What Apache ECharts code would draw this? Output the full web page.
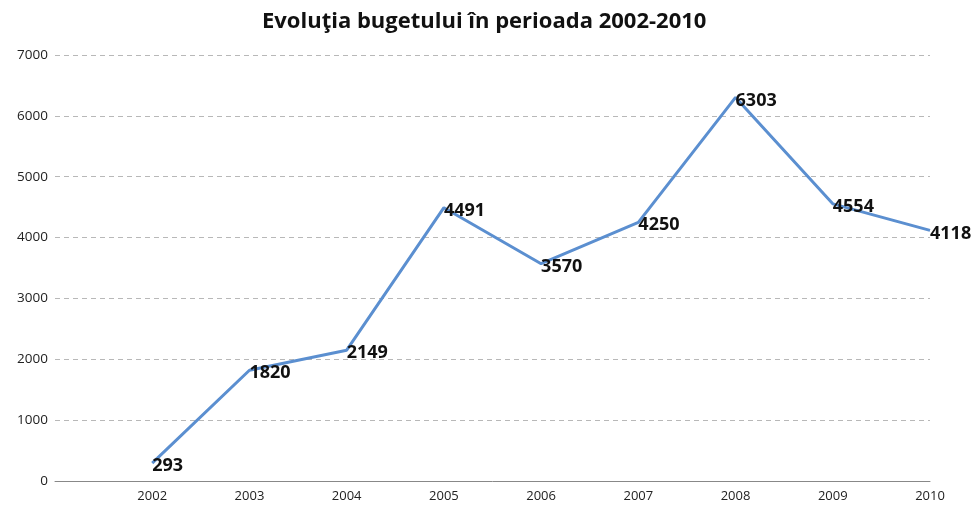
<!DOCTYPE html>
<html>
<head>
<meta charset="utf-8">
<script src="https://cdn.jsdelivr.net/npm/echarts@6/dist/echarts.min.js"></script>
<style>
  html, body { margin: 0; padding: 0; background: #fff; }
  #chart { width: 976px; height: 507px; }
</style>
</head>
<body>
<div id="chart"></div>
<script>
var years = [2002, 2003, 2004, 2005, 2006, 2007, 2008, 2009, 2010],
    buget = [293, 1820, 2149, 4491, 3570, 4250, 6303, 4554, 4118];

var points = years.map(function (y, i) { return [y, buget[i]]; });

var chart = echarts.init(document.getElementById('chart'));
chart.setOption({
    animation: false,
    textStyle: {fontFamily: 'Open Sans'},
    title: {
        text: 'Evoluţia bugetului în perioada 2002-2010',
        left: 257,
        top: 6,
        textStyle: {fontSize: 22, fontWeight: 'bold', color: '#111', fontFamily: 'Open Sans'}
    },
    grid: {left: 55, right: 46, top: 55, bottom: 26, containLabel: false},
    xAxis: {
        type: 'value',
        min: 2001,
        max: 2010,
        interval: 1,
        axisLine: {lineStyle: {color: '#888', width: 1}},
        axisTick: {show: false},
        splitLine: {show: false},
        axisLabel: {
            color: '#222',
            fontSize: 13,
            margin: 9,
            formatter: function (v) { return v === 2001 ? '' : String(v); }
        }
    },
    yAxis: {
        type: 'value',
        min: 0,
        max: 7000,
        interval: 1000,
        axisLine: {show: false},
        axisTick: {show: false},
        axisLabel: {color: '#222', fontSize: 13.5, margin: 7, formatter: function (v) { return String(v); }},
        splitLine: {lineStyle: {color: '#b8b8b8', type: [5, 4], width: 1}}
    },
    series: [{
        name: 'Buget',
        type: 'line',
        data: points,
        symbol: 'circle',
        symbolSize: 2,
        showSymbol: true,
        itemStyle: {color: 'rgba(0,0,0,0)', borderWidth: 0},
        lineStyle: {color: '#5b8fd0', width: 3},
        label: {
            show: true,
            position: 'right',
            distance: 0,
            offset: [-1, 3],
            color: '#111',
            fontWeight: 'bold',
            fontSize: 18,
            formatter: function (p) { return String(p.value[1]); }
        }
    }]
});
</script>
</body>
</html>
